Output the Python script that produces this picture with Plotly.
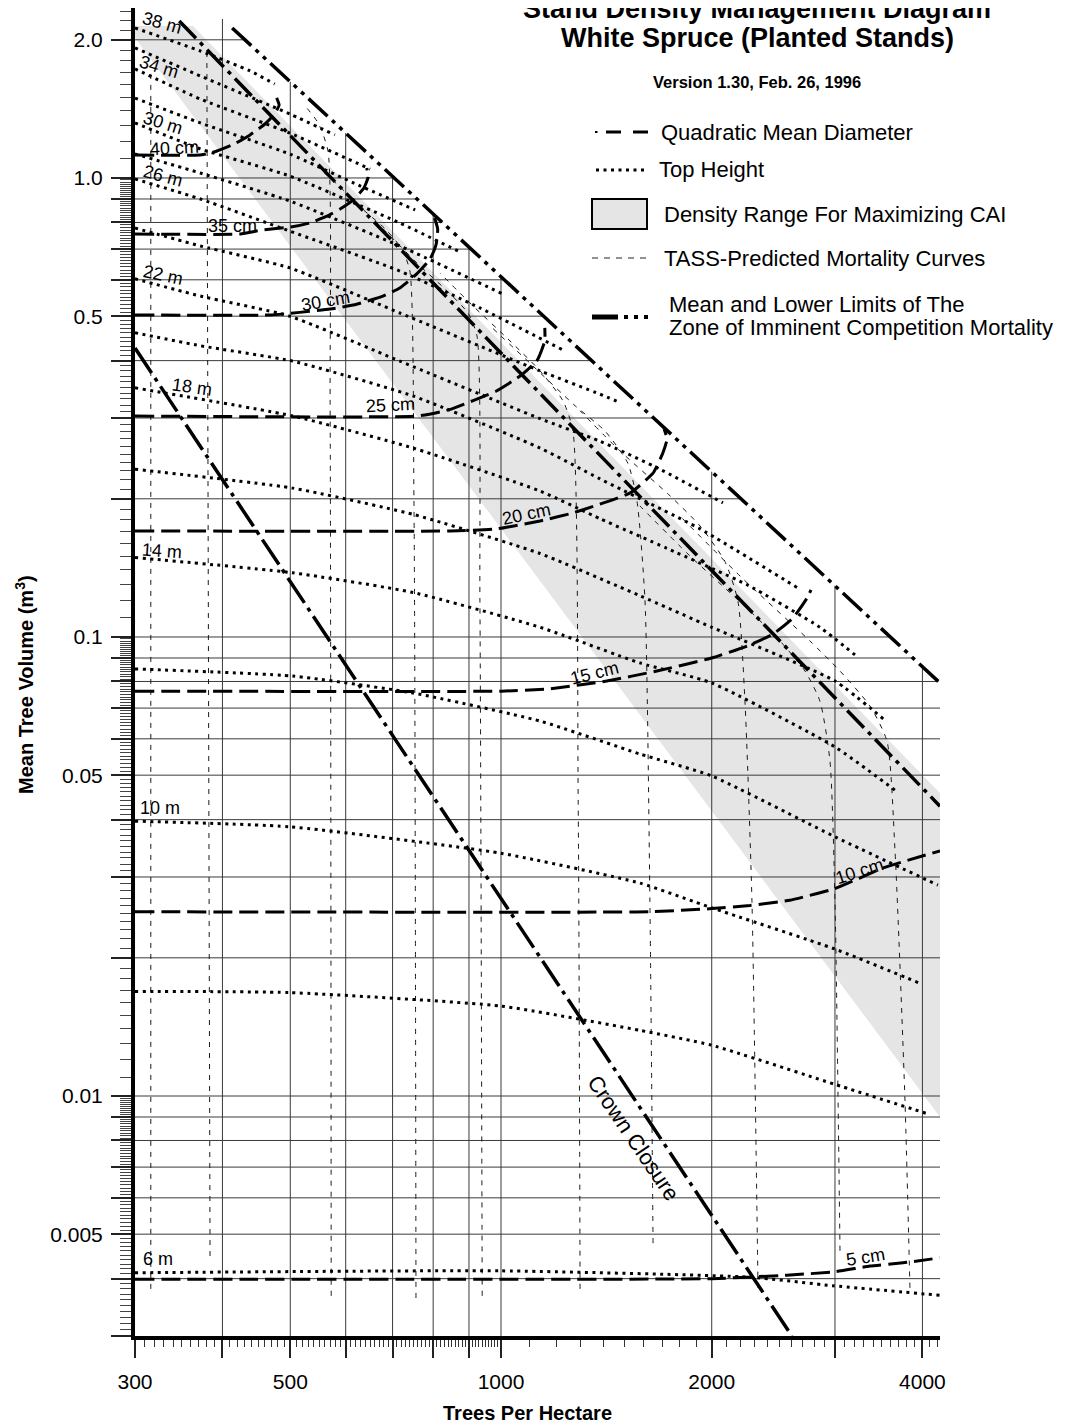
import numpy as np
import plotly.graph_objects as go

FONT = "Liberation Sans, Arial, Helvetica, sans-serif"

# ---------------- axes ----------------
X_RANGE = (300, 4238)
Y_RANGE = (0.003, 2.346)

X_TICKS = [300, 400, 500, 600, 700, 800, 900, 1000, 2000, 3000, 4000]
X_TICK_LABELS = ["300", " ", "500", " ", " ", " ", " ", "1000", "2000", " ", "4000"]

GRID_X = [400, 500, 600, 700, 800, 900, 1000, 2000, 3000, 4000]
GRID_Y = [0.004, 0.005, 0.006, 0.007, 0.008, 0.009,
          0.01, 0.02, 0.03, 0.04, 0.05, 0.06, 0.07, 0.08, 0.09,
          0.1, 0.2, 0.3, 0.4, 0.5, 0.6, 0.7, 0.8, 0.9, 1.0, 2.0]
Y_TICKS = [0.003] + GRID_Y
Y_LABELLED = {0.005: "0.005", 0.01: "0.01", 0.05: "0.05", 0.1: "0.1",
              0.5: "0.5", 1.0: "1.0", 2.0: "2.0"}

# ---------------- density range band ----------------
CAI_BAND_X = [300, 363, 4238, 4238, 300]
CAI_BAND_Y = [2.144, 2.144, 0.0457, 0.0090, 2.018]

# ---------------- limit lines ----------------
UPPER_LIMIT_X = [413, 4238]
UPPER_LIMIT_Y = [2.122, 0.0794]
LOWER_LIMIT_X = [347, 4238]
LOWER_LIMIT_Y = [2.198, 0.0428]
CROWN_X = [300, 2604]
CROWN_Y = [0.426, 0.003]

# ---------------- quadratic mean diameter ----------------
QMD_5_X = [300, 2000, 2560, 3000, 3366, 3753, 4238]
QMD_5_Y = [0.00399, 0.00400, 0.00407, 0.00414, 0.00426, 0.00433, 0.00444]
QMD_10_X = [300, 1630, 2000, 2268, 2586, 3000, 3515, 4238]
QMD_10_Y = [0.0252, 0.0252, 0.0256, 0.0260, 0.0267, 0.0283, 0.0314, 0.0342]
QMD_15_X = [300, 1000, 1164, 1417, 1670, 2000, 2248, 2448, 2613, 2737, 2772]
QMD_15_Y = [0.0762, 0.0762, 0.0770, 0.0802, 0.0843, 0.0900, 0.0956, 0.1015, 0.1100, 0.1216, 0.1266]
QMD_20_X = [300, 846, 985, 1137, 1267, 1530, 1650, 1703, 1727, 1710]
QMD_20_Y = [0.1702, 0.1702, 0.172, 0.179, 0.1863, 0.206, 0.2277, 0.2517, 0.270, 0.284]
QMD_25_X = [300, 760, 841, 985, 1065, 1125, 1155, 1155]
QMD_25_Y = [0.303, 0.303, 0.3124, 0.3435, 0.3703, 0.3994, 0.4415, 0.4714]
QMD_30_X = [300, 468, 570, 622, 678, 717, 758, 792, 808, 812, 804]
QMD_30_Y = [0.503, 0.503, 0.518, 0.531, 0.553, 0.576, 0.618, 0.666, 0.718, 0.774, 0.818]
QMD_35_X = [300, 424, 455, 501, 533, 564, 589, 615, 637, 646, 643]
QMD_35_Y = [0.755, 0.755, 0.770, 0.782, 0.798, 0.826, 0.856, 0.896, 0.951, 1.005, 1.051]
QMD_40_X = [300, 371, 389, 416, 438, 460, 475, 482, 478]
QMD_40_Y = [1.122, 1.122, 1.139, 1.186, 1.241, 1.311, 1.379, 1.442, 1.494]

QMD_LABELS = ["5 cm", "10 cm", "15 cm", "20 cm", "25 cm", "30 cm", "35 cm", "40 cm"]
QMD_LABEL_X = [3322, 3257, 1362, 1089, 696, 562, 414, 342]
QMD_LABEL_Y = [0.00446, 0.0309, 0.0835, 0.1854, 0.3202, 0.5396, 0.786, 1.1625]
QMD_LABEL_ANGLE = [-9, -18, -14, -12, -3, -10, 0, -3]

# ---------------- top height ----------------
TH_6_X = [300, 997, 2268, 2980, 4238]
TH_6_Y = [0.00412, 0.00416, 0.00403, 0.00386, 0.00368]
TH_8_X = [300, 499, 1000, 1579, 2000, 3000, 4073]
TH_8_Y = [0.0169, 0.0168, 0.0157, 0.0139, 0.0129, 0.0106, 0.00914]
TH_10_X = [300, 499, 1000, 1579, 2000, 3000, 3968]
TH_10_Y = [0.0397, 0.0386, 0.0338, 0.0291, 0.0257, 0.0209, 0.0176]
TH_12_X = [300, 504, 749, 1137, 1579, 2000, 3000, 4209]
TH_12_Y = [0.0852, 0.0822, 0.0755, 0.0656, 0.0556, 0.0498, 0.0367, 0.0288]
TH_14_X = [300, 504, 749, 1137, 1579, 2000, 3000, 3680]
TH_14_Y = [0.149, 0.138, 0.125, 0.105, 0.0878, 0.0794, 0.0576, 0.0460]
TH_16_X = [300, 504, 749, 1137, 1579, 2000, 3000, 3560]
TH_16_Y = [0.232, 0.211, 0.185, 0.152, 0.123, 0.105, 0.0802, 0.0653]
TH_18_X = [300, 504, 749, 1137, 1385, 1726, 2246, 2855, 3204]
TH_18_Y = [0.349, 0.303, 0.258, 0.208, 0.181, 0.156, 0.130, 0.105, 0.0914]
TH_20_X = [300, 372, 504, 749, 1137, 1385, 1925, 2674]
TH_20_Y = [0.460, 0.431, 0.399, 0.335, 0.258, 0.221, 0.172, 0.127]
TH_22_X = [300, 372, 499, 717, 1137, 1385, 1687, 2075]
TH_22_Y = [0.603, 0.553, 0.500, 0.399, 0.299, 0.267, 0.232, 0.196]
TH_24_X = [300, 372, 499, 717, 1137, 1385, 1480]
TH_24_Y = [0.778, 0.711, 0.637, 0.508, 0.380, 0.338, 0.324]
TH_26_X = [300, 372, 499, 717, 933, 1226]
TH_26_Y = [0.995, 0.900, 0.766, 0.627, 0.521, 0.422]
TH_28_X = [300, 372, 499, 717, 1013]
TH_28_Y = [1.128, 1.025, 0.891, 0.711, 0.556]
TH_30_X = [300, 372, 499, 717, 874]
TH_30_Y = [1.318, 1.157, 1.010, 0.798, 0.690]
TH_32_X = [300, 372, 499, 629, 754]
TH_32_Y = [1.493, 1.318, 1.128, 0.961, 0.852]
TH_34_X = [300, 372, 499, 650]
TH_34_Y = [1.728, 1.486, 1.253, 1.046]
TH_36_X = [300, 372, 499, 579]
TH_36_Y = [1.920, 1.668, 1.379, 1.241]
TH_38_X = [300, 372, 438, 475]
TH_38_Y = [2.122, 1.891, 1.711, 1.602]

TH_LABELS = ["38 m", "34 m", "30 m", "26 m", "22 m", "18 m", "14 m", "10 m", "6 m"]
TH_LABEL_X = [328, 325, 329, 329, 329, 362, 328, 326, 324]
TH_LABEL_Y = [2.176, 1.745, 1.318, 1.010, 0.6147, 0.3505, 0.154, 0.0424, 0.00441]
TH_LABEL_ANGLE = [16, 17, 17, 15, 12, 8, 4, 0, 0]

# ---------------- TASS mortality curves ----------------
TASS_1_X = [316, 316]
TASS_1_Y = [0.00380, 1.693]
TASS_2_X = [384, 380]
TASS_2_Y = [0.00448, 1.920]
TASS_3_X = [572, 570, 566, 548, 525]
TASS_3_Y = [0.00367, 0.327, 1.145, 1.318, 1.435]
TASS_4_X = [756, 751, 741, 722, 683, 629, 589, 551]
TASS_4_Y = [0.00363, 0.198, 0.627, 0.700, 0.775, 0.865, 0.956, 1.046]
TASS_5_X = [940, 933, 924, 897, 832, 766, 706, 650]
TASS_5_Y = [0.00367, 0.1198, 0.453, 0.508, 0.573, 0.643, 0.729, 0.827]
TASS_6_X = [1297, 1289, 1267, 1226, 1137, 1030, 903, 818]
TASS_6_Y = [0.00380, 0.0439, 0.281, 0.327, 0.380, 0.4415, 0.534, 0.621]
TASS_7_X = [1649, 1632, 1606, 1564, 1518, 1408, 1276, 1100, 965]
TASS_7_Y = [0.00478, 0.0266, 0.1198, 0.198, 0.239, 0.281, 0.319, 0.395, 0.476]
TASS_8_X = [2329, 2283, 2231, 2180, 2089, 1925, 1744, 1480, 1297]
TASS_8_Y = [0.00382, 0.0266, 0.0725, 0.1198, 0.146, 0.1745, 0.203, 0.254, 0.311]
TASS_9_X = [3050, 3000, 2951, 2855, 2718, 2504, 2268, 1863, 1579]
TASS_9_Y = [0.00460, 0.0266, 0.0537, 0.0725, 0.0843, 0.0980, 0.1139, 0.150, 0.193]
TASS_10_X = [3839, 3777, 3655, 3560, 3366, 3050, 2763, 2195, 1801]
TASS_10_Y = [0.00382, 0.00975, 0.0342, 0.0593, 0.0707, 0.0843, 0.0980, 0.1358, 0.1835]

CROWN_LABEL = "Crown Closure"
CROWN_LABEL_X = 1549
CROWN_LABEL_Y = 0.0081

# =====================================================================
# the page adds an 8 px body margin; the figure is sized so the plot area
# lands where the reference has it (x 135..940, y 8..1336 on the page)
PAGE_OFF = 8
W, H = 1066, 1419
ML, MT, PW, PH = 127, 0, 805, 1328
MR, MB = W - ML - PW, H - MT - PH


def px2paper(px, py):
    """page pixel -> paper coordinates"""
    fx, fy = px - PAGE_OFF, py - PAGE_OFF
    return (fx - ML) / PW, (MT + PH - fy) / PH


def upper_y(x):
    lx, ly = np.log10(UPPER_LIMIT_X), np.log10(UPPER_LIMIT_Y)
    s = (ly[1] - ly[0]) / (lx[1] - lx[0])
    return 10 ** (ly[0] + s * (np.log10(x) - lx[0]))


def upper_x(y):
    lx, ly = np.log10(UPPER_LIMIT_X), np.log10(UPPER_LIMIT_Y)
    s = (ly[1] - ly[0]) / (lx[1] - lx[0])
    return 10 ** (lx[0] + (np.log10(y) - ly[0]) / s)


fig = go.Figure()

# gray band
fig.add_trace(go.Scatter(x=CAI_BAND_X, y=CAI_BAND_Y, fill="toself", mode="lines",
                         fillcolor="#e5e5e5", line=dict(width=0), hoverinfo="skip"))

# grid clipped by the upper limit line
gx, gy = [], []
for v in GRID_X:
    top = min(upper_y(v), Y_RANGE[1])
    gx += [v, v, None]
    gy += [Y_RANGE[0], top, None]
for v in GRID_Y:
    right = min(upper_x(v), X_RANGE[1])
    gx += [X_RANGE[0], right, None]
    gy += [v, v, None]
fig.add_trace(go.Scatter(x=gx, y=gy, mode="lines", line=dict(color="#3a3a3a", width=1),
                         hoverinfo="skip"))

# TASS curves
for xs, ys in [(TASS_1_X, TASS_1_Y), (TASS_2_X, TASS_2_Y), (TASS_3_X, TASS_3_Y),
               (TASS_4_X, TASS_4_Y), (TASS_5_X, TASS_5_Y), (TASS_6_X, TASS_6_Y),
               (TASS_7_X, TASS_7_Y), (TASS_8_X, TASS_8_Y), (TASS_9_X, TASS_9_Y),
               (TASS_10_X, TASS_10_Y)]:
    fig.add_trace(go.Scatter(x=xs, y=ys, mode="lines",
                             line=dict(color="#1a1a1a", width=1, dash="5px,6px",
                                       shape="spline", smoothing=0.6),
                             hoverinfo="skip"))

# top height lines
for xs, ys in [(TH_6_X, TH_6_Y), (TH_8_X, TH_8_Y), (TH_10_X, TH_10_Y), (TH_12_X, TH_12_Y),
               (TH_14_X, TH_14_Y), (TH_16_X, TH_16_Y), (TH_18_X, TH_18_Y), (TH_20_X, TH_20_Y),
               (TH_22_X, TH_22_Y), (TH_24_X, TH_24_Y), (TH_26_X, TH_26_Y), (TH_28_X, TH_28_Y),
               (TH_30_X, TH_30_Y), (TH_32_X, TH_32_Y), (TH_34_X, TH_34_Y), (TH_36_X, TH_36_Y),
               (TH_38_X, TH_38_Y)]:
    fig.add_trace(go.Scatter(x=xs, y=ys, mode="lines",
                             line=dict(color="black", width=3, dash="3px,4.5px",
                                       shape="spline", smoothing=0.5),
                             hoverinfo="skip"))

# QMD lines
for xs, ys in [(QMD_5_X, QMD_5_Y), (QMD_10_X, QMD_10_Y), (QMD_15_X, QMD_15_Y),
               (QMD_20_X, QMD_20_Y), (QMD_25_X, QMD_25_Y), (QMD_30_X, QMD_30_Y),
               (QMD_35_X, QMD_35_Y), (QMD_40_X, QMD_40_Y)]:
    fig.add_trace(go.Scatter(x=xs, y=ys, mode="lines",
                             line=dict(color="black", width=3, dash="19px,7px",
                                       shape="spline", smoothing=0.4),
                             hoverinfo="skip"))

# crown closure and limit lines
fig.add_trace(go.Scatter(x=CROWN_X, y=CROWN_Y, mode="lines",
                         line=dict(color="black", width=3.5, dash="30px,6px,4px,6px"),
                         hoverinfo="skip"))
fig.add_trace(go.Scatter(x=LOWER_LIMIT_X, y=LOWER_LIMIT_Y, mode="lines",
                         line=dict(color="black", width=3.5, dash="24px,6px,4px,6px"),
                         hoverinfo="skip"))
fig.add_trace(go.Scatter(x=UPPER_LIMIT_X, y=UPPER_LIMIT_Y, mode="lines",
                         line=dict(color="black", width=3.5, dash="26px,6px,4px,6px,4px,6px"),
                         hoverinfo="skip"))

annotations = []
for t, x, y, a in zip(TH_LABELS, TH_LABEL_X, TH_LABEL_Y, TH_LABEL_ANGLE):
    annotations.append(dict(x=np.log10(x), y=np.log10(y), xref="x", yref="y", text=t,
                            showarrow=False, textangle=a, xanchor="center", yanchor="middle",
                            font=dict(family=FONT, size=18, color="black")))
for t, x, y, a in zip(QMD_LABELS, QMD_LABEL_X, QMD_LABEL_Y, QMD_LABEL_ANGLE):
    annotations.append(dict(x=np.log10(x), y=np.log10(y), xref="x", yref="y", text=t,
                            showarrow=False, textangle=a, xanchor="center", yanchor="middle",
                            font=dict(family=FONT, size=18, color="black")))
annotations.append(dict(x=np.log10(CROWN_LABEL_X), y=np.log10(CROWN_LABEL_Y), xref="x", yref="y",
                        text=CROWN_LABEL, showarrow=False, textangle=56,
                        xanchor="center", yanchor="middle",
                        font=dict(family=FONT, size=22, color="black")))

# titles (the first line is cut by the top edge, as in the source)
for text, px, py, size in [("<b>Stand Density Management Diagram</b>", 757, 9, 27),
                           ("<b>White Spruce (Planted Stands)</b>", 757, 38, 27),
                           ("<b>Version 1.30, Feb. 26, 1996</b>", 757, 82, 16.5)]:
    xp, yp = px2paper(px, py)
    annotations.append(dict(x=xp, y=yp, xref="paper", yref="paper", text=text, showarrow=False,
                            xanchor="center", yanchor="middle",
                            font=dict(family=FONT, size=size, color="black")))

# legend texts
for text, px, py in [("Quadratic Mean Diameter", 659, 132),
                     ("Top Height", 657, 170),
                     ("Density Range For Maximizing CAI", 662, 214),
                     ("TASS-Predicted Mortality Curves", 662, 258),
                     ("Mean and Lower Limits of The", 667, 304),
                     ("Zone of Imminent Competition Mortality", 667, 327)]:
    xp, yp = px2paper(px, py)
    annotations.append(dict(x=xp, y=yp, xref="paper", yref="paper", text=text, showarrow=False,
                            xanchor="left", yanchor="middle",
                            font=dict(family=FONT, size=22, color="black")))

# axis titles
xp, yp = px2paper(527, 1413)
annotations.append(dict(x=xp, y=yp, xref="paper", yref="paper", text="<b>Trees Per Hectare</b>",
                        showarrow=False, xanchor="center", yanchor="middle",
                        font=dict(family=FONT, size=20, color="black")))
xp, yp = px2paper(24, 685)
annotations.append(dict(x=xp, y=yp, xref="paper", yref="paper",
                        text="<b>Mean Tree Volume (m<sup>3</sup>)</b>", textangle=-90,
                        showarrow=False, xanchor="center", yanchor="middle",
                        font=dict(family=FONT, size=20, color="black")))

# legend symbols
shapes = []


def hline(x0, x1, py, width, dash, color="black"):
    a0, b = px2paper(x0, py)
    a1, _ = px2paper(x1, py)
    return dict(type="line", xref="paper", yref="paper", x0=a0, x1=a1, y0=b, y1=b,
                line=dict(color=color, width=width, dash=dash))


shapes.append(hline(595, 597.5, 132, 2, "solid"))
shapes.append(hline(606, 648, 132, 3, "15px,12px"))
shapes.append(hline(596, 648, 170, 3, "3px,4.5px"))
bx0, by0 = px2paper(592, 199)
bx1, by1 = px2paper(647, 229)
shapes.append(dict(type="rect", xref="paper", yref="paper", x0=bx0, x1=bx1, y0=by1, y1=by0,
                   fillcolor="#e5e5e5", line=dict(color="black", width=2)))
shapes.append(hline(592, 648, 258, 1, "6px,6px", "#222"))
shapes.append(hline(592, 618, 317, 5, "solid"))
shapes.append(hline(624, 649, 317, 4, "4px,6px"))


def minor_vals(lo, hi, majors):
    vals = []
    for k in range(-4, 5):
        for m in range(10, 100):
            v = round(m * 10.0 ** (k - 1), 8)
            if lo <= v <= hi and all(abs(v - mj) / mj > 1e-6 for mj in majors):
                vals.append(v)
    return sorted(set(vals))


fig.update_layout(
    width=W, height=H,
    margin=dict(l=ML, r=MR, t=MT, b=MB, pad=0, autoexpand=False),
    paper_bgcolor="white", plot_bgcolor="white",
    showlegend=False,
    font=dict(family=FONT, color="black"),
    annotations=annotations,
    shapes=shapes,
    xaxis=dict(type="log", range=[np.log10(X_RANGE[0]), np.log10(X_RANGE[1])],
               tickmode="array", tickvals=X_TICKS, ticktext=X_TICK_LABELS,
               ticks="outside", ticklen=18, tickwidth=1.5, tickcolor="#222",
               showgrid=False, zeroline=False, showline=True, linewidth=4, linecolor="black",
               tickfont=dict(family=FONT, size=21, color="black"), ticklabelstandoff=6,
               minor=dict(tickmode="array", tickvals=minor_vals(*X_RANGE, X_TICKS),
                          ticks="outside", ticklen=7, tickwidth=1, tickcolor="#333",
                          showgrid=False)),
    yaxis=dict(type="log", range=[np.log10(Y_RANGE[0]), np.log10(Y_RANGE[1])],
               tickmode="array", tickvals=Y_TICKS,
               ticktext=[Y_LABELLED.get(v, " ") for v in Y_TICKS],
               ticks="outside", ticklen=20, tickwidth=1.5, tickcolor="#222",
               showgrid=False, zeroline=False, showline=True, linewidth=4, linecolor="black",
               tickfont=dict(family=FONT, size=21, color="black"), ticklabelstandoff=4,
               minor=dict(tickmode="array", tickvals=minor_vals(*Y_RANGE, Y_TICKS),
                          ticks="outside", ticklen=11, tickwidth=1, tickcolor="#444",
                          showgrid=False)),
)

fig.write_html("out.html")
